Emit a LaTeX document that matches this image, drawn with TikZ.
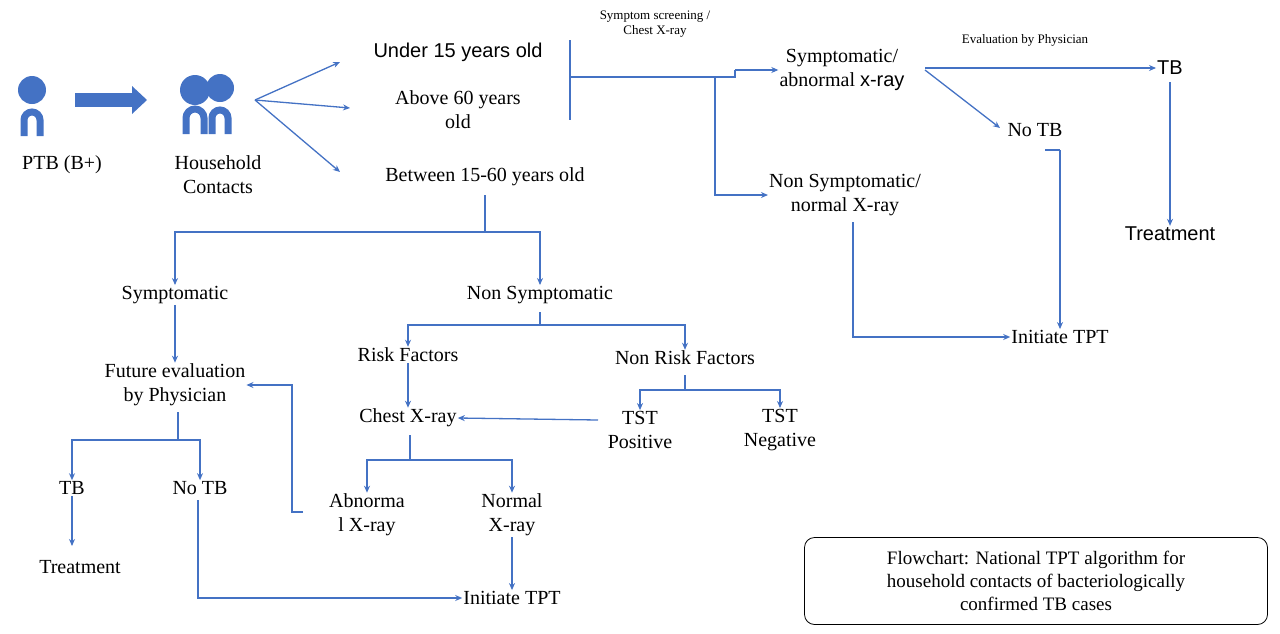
\documentclass[tikz,border=0pt]{standalone}
\usepackage{fontspec}
\setmainfont{Liberation Serif}
\newfontfamily\sansf{Liberation Sans}
\usetikzlibrary{arrows.meta}
\definecolor{bl}{HTML}{4472C4}
\begin{document}
\begin{tikzpicture}[x=1pt,y=-1pt,
 t/.style={font=\fontsize{20}{24}\selectfont,align=center,inner sep=1pt},
 ts/.style={font=\sansf\fontsize{20}{24}\selectfont,align=center,inner sep=1pt},
 sm/.style={font=\fontsize{13}{15}\selectfont,align=center,inner sep=1pt},
 ln/.style={draw=bl,line width=1.3pt},
 ar/.style={ln,-{Stealth[length=7pt,width=6pt]}},
 body/.style={draw=bl,line width=7pt}]
\useasboundingbox (0,0) rectangle (1280,633);
% icons
\fill[bl] (32,90) circle (14);
\draw[body] (24,136)--(24,120) arc(180:360:8)--(40,136);
\fill[bl] (75,93) rectangle (132,107);
\fill[bl] (132,86) -- (147,100) -- (132,114) -- cycle;
\fill[bl] (220,88) circle (14);
\draw[body] (212,134)--(212,118) arc(180:360:8)--(228,134);
\fill[bl] (195,90) circle (15);
\draw[body] (186,134)--(186,118) arc(180:360:9)--(204,134);
\node[t] (ptb) at (62,165) {PTB (B+)};
\node[t] (hc) at (218,175) {Household\\Contacts};
\coordinate (hcr) at (255,100);
\node[ts] (u15) at (458,52) {Under 15 years old};
\node[t] (a60) at (458,110) {Above 60 years\\old};
\node[t] (b15) at (485,177) {Between 15-60 years old};
\draw[ar] (hcr)--(340,62);
\draw[ar] (hcr)--(350,108);
\draw[ar] (hcr)--(340,172);
% screening
\coordinate (v1) at (570,40); \coordinate (v2) at (570,120);
\draw[ln] (v1)--(v2);
\node[sm] (scr) at (655,24) {Symptom screening /\\Chest X-ray};
\node[t] (sym) at (842,70) {Symptomatic/\\abnormal {\sansf x-ray}};
\node[t] (nsym) at (845,195) {Non Symptomatic/\\normal X-ray};
\draw[ln] (570,77)--(735,77)--(735,70);
\draw[ar] (735,70)--(sym.west);
\draw[ar] (715,77)|-(nsym.west);
\node[sm] (ev) at (1025,40) {Evaluation by Physician};
\node[ts] (tb1) at (1170,68) {TB};
\node[t] (ntb1) at (1035,130) {No TB};
\node[ts] (tr1) at (1170,234) {Treatment};
\node[t] (it1) at (1060,337) {Initiate TPT};
\draw[ar] (925,68)--(tb1.west);
\draw[ar] (925,70)--(1000,128);
\draw[ar] (tb1.south)++(0,6)--(tr1.north);
\draw[ln] (1045,150)--(1060,150);
\draw[ar] (1060,150)--(it1.north);
\draw[ar] (853,222)|-(it1.west);
% between
\node[t] (s2) at (175,295) {Symptomatic};
\node[t] (ns2) at (540,295) {Non Symptomatic};
\draw[ln] (485,195)--(485,232);
\draw[ar] (485,232)-|(s2.north);
\draw[ar] (485,232)-|(ns2.north);
\node[t] (fe) at (175,385) {Future evaluation\\by Physician};
\draw[ar] (s2.south)--(fe.north);
\node[t] (tb2) at (72,488) {TB};
\node[t] (ntb2) at (200,488) {No TB};
\node[t] (tr2) at (80,567) {Treatment};
\node[t] (it2) at (512,598) {Initiate TPT};
\draw[ln] (178,412)--(178,440);
\draw[ar] (178,440)-|(tb2.north);
\draw[ar] (178,440)-|(ntb2.north);
\draw[ar] (tb2.south)--(72,546);
\draw[ar] (198,500)|-(it2.west);
% non symptomatic
\node[t] (rf) at (408,355) {Risk Factors};
\node[t] (nrf) at (685,358) {Non Risk Factors};
\draw[ln] (540,312)--(540,325);
\draw[ar] (540,325)-|(rf.north);
\draw[ar] (540,325)-|(nrf.north);
\node[t] (cx) at (408,418) {Chest X-ray};
\draw[ar] (rf.south)--(cx.north);
\node[t] (tp) at (640,430) {TST\\Positive};
\node[t] (tn) at (780,430) {TST\\Negative};
\draw[ln] (685,375)--(685,390);
\draw[ar] (685,390)-|(tp.north);
\draw[ar] (685,390)-|(tn.north);
\draw[ar] (598,420)--(cx.east);
\node[t] (ab) at (367,515) {Abnorma\\l X-ray};
\node[t] (nx) at (512,515) {Normal\\X-ray};
\draw[ln] (410,435)--(410,460);
\draw[ar] (410,460)-|(ab.north);
\draw[ar] (410,460)-|(nx.north);
\draw[ar] (nx.south)--(it2.north);
\draw[ar] (303,512)--(292,512)--(292,385)--(fe.east);
% caption box
\node[draw=black,line width=0.8pt,rounded corners=10pt,minimum width=463pt,minimum height=87pt,align=center,font=\fontsize{19}{23}\selectfont] (cap) at (1036,581) {Flowchart: National TPT algorithm for\\household contacts of bacteriologically\\confirmed TB cases};
\end{tikzpicture}
\end{document}
